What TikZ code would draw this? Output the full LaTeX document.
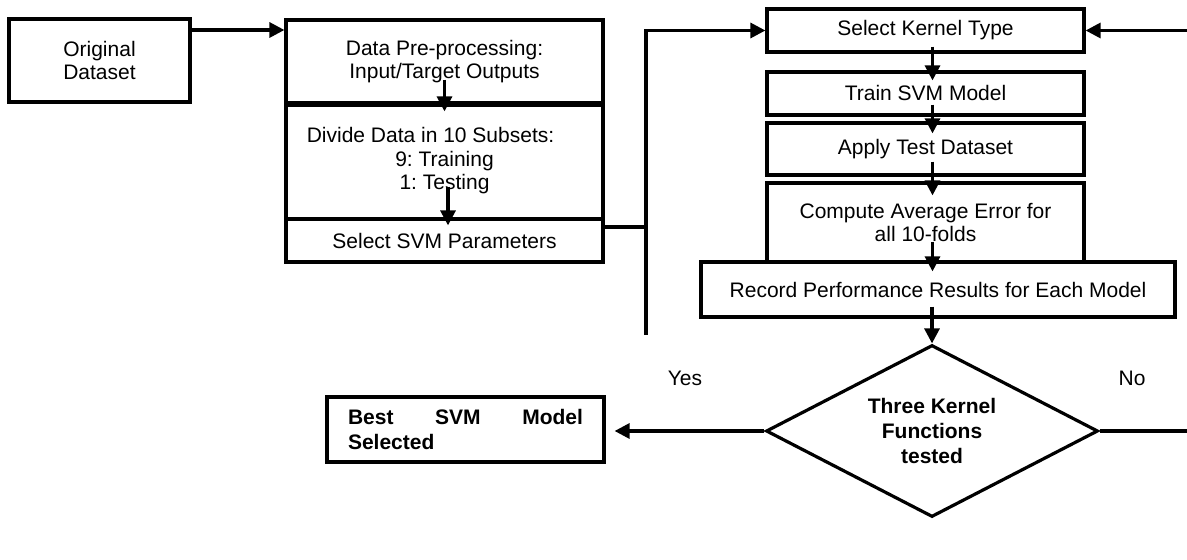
\documentclass[tikz,border=0pt]{standalone}
\usepackage{fontspec}
\setmainfont{Liberation Sans}
\usetikzlibrary{arrows.meta,shapes.geometric}
\frenchspacing

\begin{document}
\begin{tikzpicture}[x=0.5pt,y=-0.5pt]
\tikzset{boite/.style={draw, line width=1.6pt, rectangle, inner sep=0pt, align=center, font=\fontsize{10.5}{11.75}\selectfont},
fleche/.style={line width=1.6pt, -{Triangle[length=7.5pt,width=7.5pt]}},
losange/.style={draw, line width=1.6pt, diamond, shape aspect=1.93, inner sep=0pt, minimum width=166pt, minimum height=86pt, align=center, font=\fontsize{10.5}{12.5}\selectfont\bfseries}}
\useasboundingbox (0,0) rectangle (1187,560);
\node[boite, minimum width=90.5pt, minimum height=41.5pt] (orig) at (99.5,60.5) {Original\\Dataset};
\node[boite, minimum width=158.5pt, minimum height=41.5pt] (prep) at (444.5,61.5) {Data Pre-processing:\\Input/Target Outputs};
\node[boite, minimum width=158.5pt, minimum height=58pt] (divi) at (444.5,161) {Divide Data in 10 Subsets:\hspace*{14pt}\\9: Training\\1: Testing};
\node[boite, minimum width=158.5pt, minimum height=21.5pt] (param) at (444.5,240.5) {Select SVM Parameters};
\node[boite, minimum width=158.5pt, minimum height=21.5pt] (kern) at (925.5,30.5) {Select Kernel Type};
\node[boite, minimum width=158.5pt, minimum height=21.5pt] (train) at (925.5,93.5) {Train SVM Model};
\node[boite, minimum width=158.5pt, minimum height=26pt] (apply) at (925.5,149) {Apply Test Dataset};
\node[boite, minimum width=158.5pt, minimum height=39.5pt] (comp) at (925.5,222.5) {Compute Average Error for\\all 10-folds};
\node[boite, minimum width=237pt, minimum height=27.5pt] (rec) at (938,289.5) {Record Performance Results for Each Model};
\node[losange] (test) at (932,431) {Three Kernel\\Functions\\tested};
\node[boite, text width=117.5pt, inner xsep=10.5pt, minimum height=32.5pt, align=left, font=\fontsize{10.5}{12.5}\selectfont\bfseries] (best) at (465.5,429.5) {Best\hfill SVM\hfill Model\\Selected};
\node[font=\fontsize{10.5}{12}\selectfont] (oui) at (685,378) {Yes};
\node[font=\fontsize{10.5}{12}\selectfont] (non) at (1132,378) {No};
\coordinate (haut) at (646,30.5);
\coordinate (bas) at (646,335);
\coordinate (joint) at (646,227);
\coordinate (retour) at (1187,30.5);
\draw[line width=2.6pt] (prep.south west) -- (prep.south east);
\draw[fleche] ([yshift=15.25pt]orig.east) -- ([yshift=15.25pt]orig.east -| prep.west);
\draw[fleche] ([yshift=12.5pt]prep.south) -- ([yshift=-5pt]divi.north);
\draw[fleche] ([xshift=1.75pt,yshift=17pt]divi.south) -- ([xshift=1.75pt,yshift=-4pt]param.north);
\draw[line width=1.6pt] (joint -| param.east) -- (joint);
\draw[fleche] (bas) -- (haut) -- (kern.west);
\draw[fleche] (retour) -- (kern.east);
\draw[fleche] ([xshift=3.5pt,yshift=3.5pt]kern.south) -- ([xshift=3.5pt,yshift=-5pt]train.north);
\draw[fleche] ([xshift=3.5pt,yshift=6pt]train.south) -- ([xshift=3.5pt,yshift=-6pt]apply.north);
\draw[fleche] ([xshift=3.5pt,yshift=7.5pt]apply.south) -- ([xshift=3.5pt,yshift=-7pt]comp.north);
\draw[fleche] ([xshift=3.5pt,yshift=11pt]comp.south) -- ([xshift=-2.75pt,yshift=-5.5pt]rec.north);
\draw[fleche] ([yshift=6pt]rec.south -| test.north) -- (test.north);
\draw[fleche, shorten >=4.5pt] (test.west) -- (test.west -| best.east);
\draw[line width=1.6pt] (test.east) -- (test.east -| retour);
\end{tikzpicture}
\end{document}
